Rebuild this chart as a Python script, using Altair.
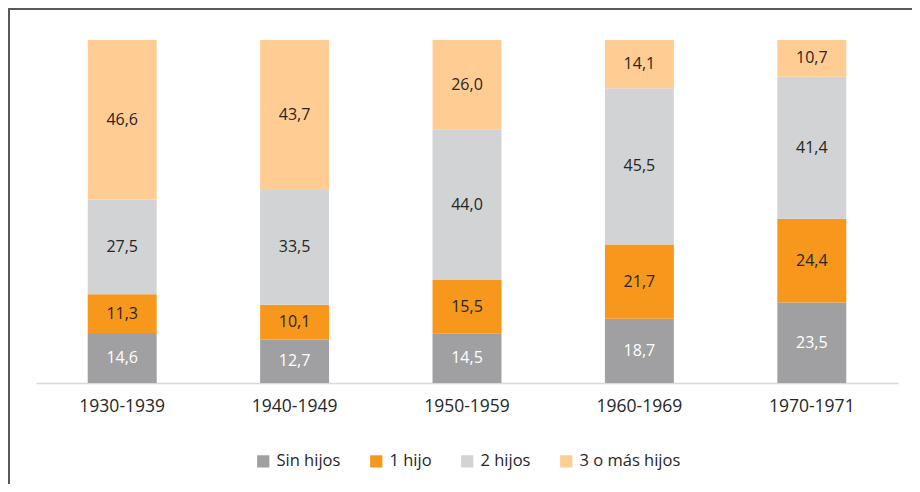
import altair as alt
import pandas as pd

periods = ["1930-1939", "1940-1949", "1950-1959", "1960-1969", "1970-1971"]
series = ["Sin hijos", "1 hijo", "2 hijos", "3 o más hijos"]
sin_hijos = [14.6, 12.7, 14.5, 18.7, 23.5]
un_hijo = [11.3, 10.1, 15.5, 21.7, 24.4]
dos_hijos = [27.5, 33.5, 44.0, 45.5, 41.4]
tres_mas = [46.6, 43.7, 26.0, 14.1, 10.7]
colors = ["#A0A0A3", "#F7981D", "#D2D3D5", "#FFCC94"]

rows = []
for si, (name, vals) in enumerate(zip(series, [sin_hijos, un_hijo, dos_hijos, tres_mas])):
    for p, v in zip(periods, vals):
        rows.append({"periodo": p, "serie": name, "orden": si, "valor": v,
                     "etiqueta": f"{v:.1f}".replace(".", ",")})
df = pd.DataFrame(rows)

FONT = "Open Sans"

base = alt.Chart(df).transform_stack(
    stack="valor", groupby=["periodo"], as_=["y0", "y1"],
    sort=[alt.SortField("orden", order="ascending")]
).transform_calculate(mid="(datum.y0 + datum.y1) / 2")

x_enc = alt.X("periodo:N", sort=periods, title=None,
              scale=alt.Scale(paddingInner=0.6, paddingOuter=0.3),
              axis=alt.Axis(labelAngle=0, ticks=False, domainColor="#D9D9D9",
                            domainWidth=1.5, labelPadding=14, labelFontSize=17.5,
                            labelColor="#262626", labelFont=FONT, grid=False))

yscale = alt.Scale(domain=[0, 100], nice=False)

bars = base.mark_bar().encode(
    x=x_enc,
    y=alt.Y("y0:Q", scale=yscale, axis=None),
    y2="y1:Q",
    color=alt.Color("serie:N", sort=series,
                    scale=alt.Scale(domain=series, range=colors),
                    legend=alt.Legend(title=None, orient="none", direction="horizontal",
                                      legendX=219, legendY=413,
                                      symbolType="square", symbolSize=150,
                                      symbolStrokeWidth=0, symbolOpacity=1,
                                      labelFontSize=16.5, labelFont=FONT,
                                      labelColor="#262626", columnPadding=27,
                                      labelOffset=5)),
)

texts = base.mark_text(fontSize=16, font=FONT).encode(
    x=alt.X("periodo:N", sort=periods),
    y=alt.Y("mid:Q", scale=yscale, axis=None),
    text="etiqueta:N",
    color=alt.condition(alt.datum.orden == 0, alt.value("#FFFFFF"), alt.value("#262626")),
)

frame_left = alt.Chart(pd.DataFrame({"a": [0]})).mark_rule(
    color="#595959", strokeWidth=2, clip=False
).encode(x=alt.value(-27), y=alt.value(-32), y2=alt.value(470))
frame_top = alt.Chart(pd.DataFrame({"a": [0]})).mark_rule(
    color="#595959", strokeWidth=2, clip=False
).encode(x=alt.value(-28), x2=alt.value(880), y=alt.value(-31))

chart = alt.layer(bars, texts, frame_left, frame_top).properties(
    width=862, height=343,
    background="white",
    autosize=alt.AutoSizeParams(type="none"),
    padding={"left": 28, "top": 32, "right": 14, "bottom": 101},
).configure_view(strokeWidth=0, stroke=None).configure_axis(grid=False)

chart.save("out.html", embed_options={"renderer": "svg", "actions": False})
